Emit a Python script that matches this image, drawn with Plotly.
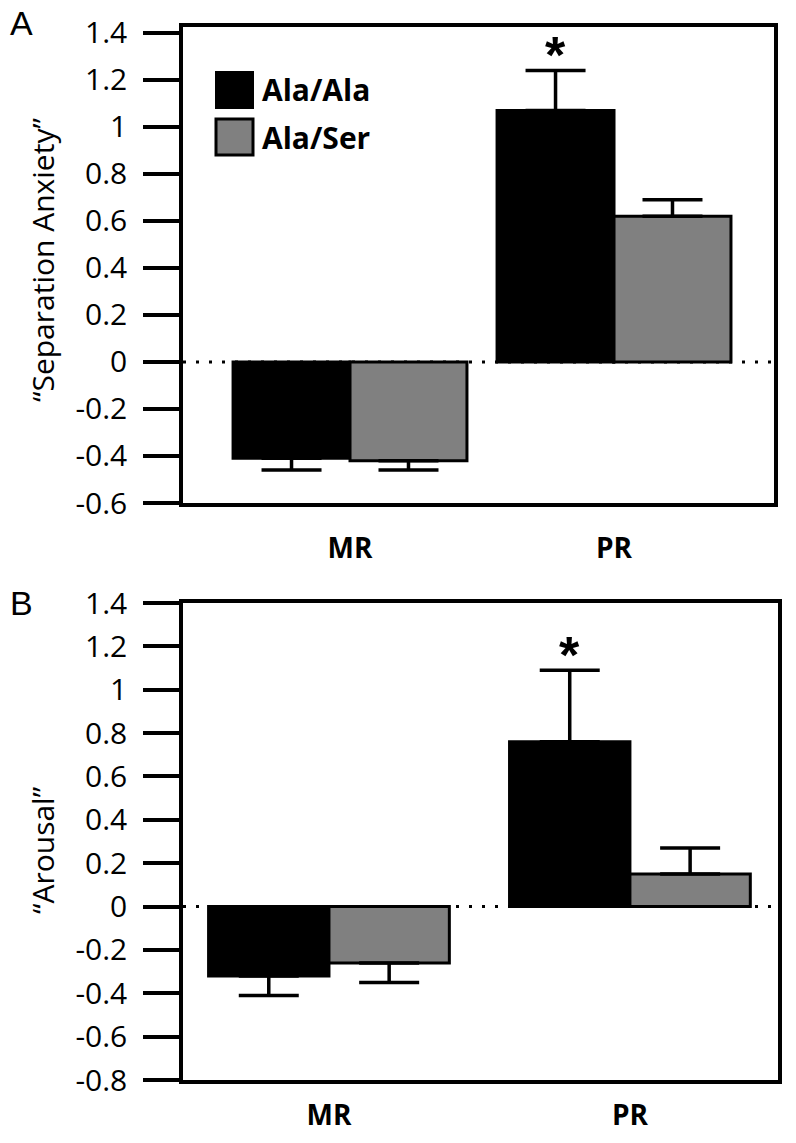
import plotly.graph_objects as go

# ---------------- data ----------------
categories = ["MR", "PR"]
series_names = ["Ala/Ala", "Ala/Ser"]

sep_ala_ala = [-0.41, 1.07]
sep_ala_ala_err = [0.05, 0.17]
sep_ala_ser = [-0.42, 0.62]
sep_ala_ser_err = [0.04, 0.07]

arousal_ala_ala = [-0.32, 0.76]
arousal_ala_ala_err = [0.09, 0.33]
arousal_ala_ser = [-0.26, 0.15]
arousal_ala_ser_err = [0.09, 0.12]

sep_ticks = [-0.6, -0.4, -0.2, 0, 0.2, 0.4, 0.6, 0.8, 1.0, 1.2, 1.4]
sep_ticktext = ["-0.6", "-0.4", "-0.2", "0", "0.2", "0.4", "0.6", "0.8", "1", "1.2", "1.4"]
aro_ticks = [-0.8, -0.6, -0.4, -0.2, 0, 0.2, 0.4, 0.6, 0.8, 1.0, 1.2, 1.4]
aro_ticktext = ["-0.8", "-0.6", "-0.4", "-0.2", "0", "0.2", "0.4", "0.6", "0.8", "1", "1.2", "1.4"]

# ---------------- style ----------------
W, H = 796, 1143
COLORS = ["#000000", "#808080"]
TICK_FONT = dict(family="Open Sans", size=30, color="black")
CAT_FONT = dict(family="Open Sans", size=28, color="black")
LW = 3.5

xpos = list(range(len(categories)))


def up_down(vals, errs):
    plus = [e if v >= 0 else 0 for v, e in zip(vals, errs)]
    minus = [e if v < 0 else 0 for v, e in zip(vals, errs)]
    return plus, minus


def add_panel(fig, xa, ya, s1, e1, s2, e2, bw):
    for i, (vals, errs) in enumerate([(s1, e1), (s2, e2)]):
        plus, minus = up_down(vals, errs)
        fig.add_trace(go.Bar(
            x=xpos, y=vals, name=series_names[i],
            xaxis=xa, yaxis=ya,
            width=bw, offset=(-bw if i == 0 else 0),
            marker=dict(color=COLORS[i], line=dict(color="black", width=3)),
            error_y=dict(type="data", symmetric=False, array=plus, arrayminus=minus,
                         color="black", thickness=LW, width=30),
            showlegend=False,
        ))


fig = go.Figure()
bwA = 0.443
bwB = 0.40
add_panel(fig, "x", "y", sep_ala_ala, sep_ala_ala_err, sep_ala_ser, sep_ala_ser_err, bwA)
add_panel(fig, "x2", "y2", arousal_ala_ala, arousal_ala_ala_err,
          arousal_ala_ser, arousal_ala_ser_err, bwB)

axis_common = dict(showline=True, linecolor="black", linewidth=LW, mirror=True,
                   showgrid=False, zeroline=False, automargin=False)

fig.update_layout(
    width=W, height=H,
    margin=dict(l=0, r=0, t=0, b=0),
    paper_bgcolor="white", plot_bgcolor="white",
    barmode="overlay",
    showlegend=False,
    xaxis=dict(domain=[183 / W, 774 / W], range=[-0.6326, 1.606], anchor="y",
               tickvals=xpos, ticktext=[f"<b>{c}</b>" for c in categories],
               ticks="", tickfont=CAT_FONT, ticklabelstandoff=18, **axis_common),
    yaxis=dict(domain=[1 - 503 / H, 1 - 27 / H], range=[-0.6, 1.425], anchor="x",
               tickvals=sep_ticks, ticktext=sep_ticktext, ticks="outside",
               ticklen=36, tickwidth=LW, tickcolor="black", tickfont=TICK_FONT,
               ticklabelstandoff=10, **axis_common),
    xaxis2=dict(domain=[183 / W, 778 / W], range=[-0.485, 1.492], anchor="y2",
                tickvals=xpos, ticktext=[f"<b>{c}</b>" for c in categories],
                ticks="", tickfont=CAT_FONT, ticklabelstandoff=8, **axis_common),
    yaxis2=dict(domain=[1 - 1080 / H, 1 - 603 / H], range=[-0.8, 1.4], anchor="x2",
                tickvals=aro_ticks, ticktext=aro_ticktext, ticks="outside",
                ticklen=36, tickwidth=LW, tickcolor="black", tickfont=TICK_FONT,
                ticklabelstandoff=10, **axis_common),
)

# dotted zero lines
for xr, yr in [("x domain", "y"), ("x2 domain", "y2")]:
    fig.add_shape(type="line", xref=xr, yref=yr, x0=0, x1=1, y0=0, y1=0,
                  line=dict(color="black", width=3, dash="3px,10px"), layer="below")

# legend (panel A)
leg_x0, leg_x1 = 216 / W, 253 / W
fig.add_shape(type="rect", xref="paper", yref="paper", x0=leg_x0, x1=leg_x1,
              y0=1 - 108 / H, y1=1 - 72 / H, fillcolor=COLORS[0],
              line=dict(color="black", width=2))
fig.add_shape(type="rect", xref="paper", yref="paper", x0=leg_x0, x1=leg_x1,
              y0=1 - 155 / H, y1=1 - 119 / H, fillcolor=COLORS[1],
              line=dict(color="black", width=3))
for name, yc in zip(series_names, [90, 137]):
    fig.add_annotation(xref="paper", yref="paper", x=260 / W, y=1 - yc / H,
                       xanchor="left", yanchor="middle", showarrow=False,
                       text=f"<b>{name}</b>",
                       font=dict(family="Open Sans", size=30, color="black"))

# significance asterisks over PR Ala/Ala
for xa, ya, vals, errs, bw in [("x", "y", sep_ala_ala, sep_ala_ala_err, bwA),
                               ("x2", "y2", arousal_ala_ala, arousal_ala_ala_err, bwB)]:
    fig.add_annotation(xref=xa, yref=ya, x=1 - bw / 2, y=vals[1] + errs[1],
                       yanchor="bottom", yshift=-16, showarrow=False, text="<b>*</b>",
                       font=dict(family="Liberation Sans", size=52, color="black"))

# y-axis titles
fig.add_annotation(xref="paper", yref="paper", x=42 / W, y=1 - 260 / H,
                   text="\u201cSeparation Anxiety\u201d", textangle=-90, showarrow=False,
                   xanchor="center", yanchor="middle",
                   font=dict(family="Open Sans", size=30, color="black"))
fig.add_annotation(xref="paper", yref="paper", x=42 / W, y=1 - 850 / H,
                   text="\u201cArousal\u201d", textangle=-90, showarrow=False,
                   xanchor="center", yanchor="middle",
                   font=dict(family="Open Sans", size=30, color="black"))

# panel letters
for letter, ytop in [("A", 2), ("B", 582)]:
    fig.add_annotation(xref="paper", yref="paper", x=8 / W, y=1 - ytop / H,
                       text=letter, showarrow=False, xanchor="left", yanchor="top",
                       font=dict(family="Liberation Sans", size=34, color="black"))

fig.write_html("out.html", config={"displayModeBar": False},
               post_script="document.body.style.margin='0px';")
